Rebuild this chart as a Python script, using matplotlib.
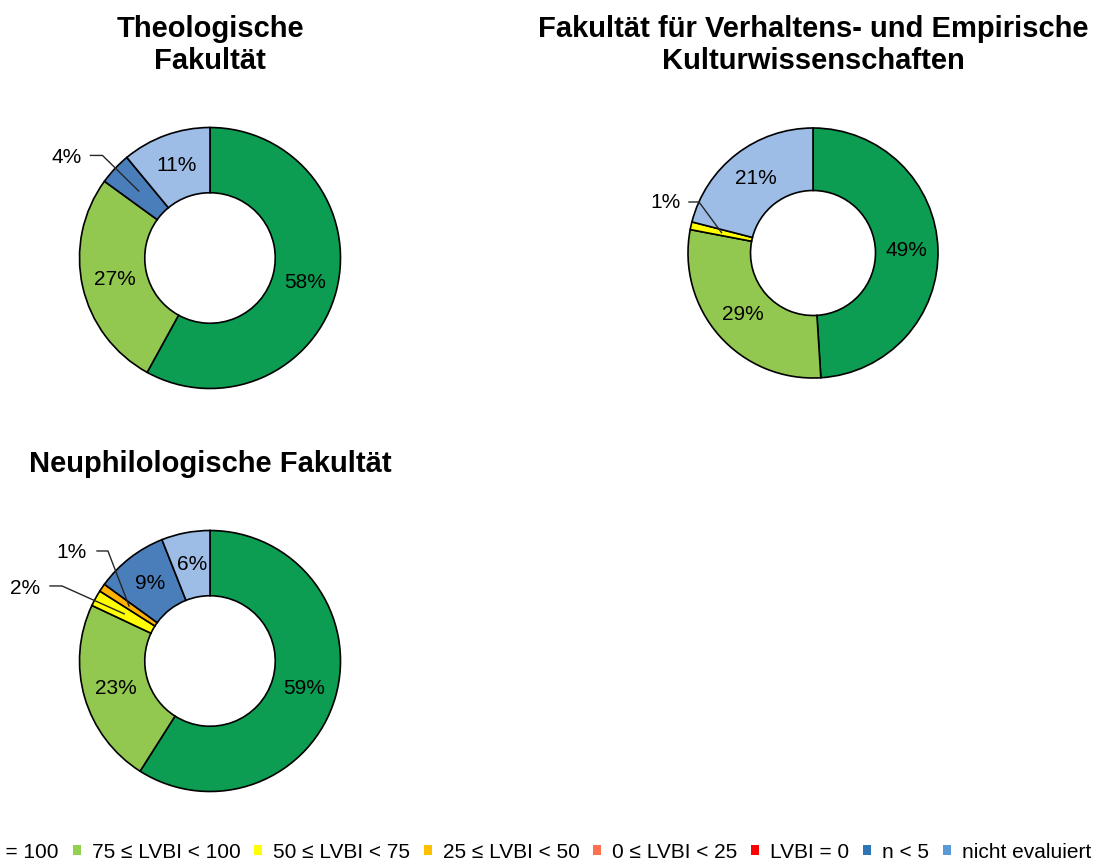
import matplotlib.pyplot as plt
import numpy as np
from matplotlib.patches import Patch

plt.rcParams['font.family'] = ['Liberation Sans', 'DejaVu Sans']

# categories and shares (percent) per faculty
categories = ['LVBI = 100', '75 ≤ LVBI < 100', '50 ≤ LVBI < 75', '25 ≤ LVBI < 50',
              '0 ≤ LVBI < 25', 'LVBI = 0', 'n < 5', 'nicht evaluiert']
theologie = [58, 27, 0, 0, 0, 0, 4, 11]
verhalten = [49, 29, 1, 0, 0, 0, 0, 21]
neuphilologie = [59, 23, 2, 1, 0, 0, 9, 6]

pie_colors = ['#0C9D52', '#92C850', '#FFFF00', '#FFB300', '#FF7050', '#FF0000', '#4A7EBB', '#9DBDE6']
legend_colors = ['#00A050', '#92D050', '#FFFF00', '#FFC000', '#FF7050', '#FF0000', '#2E75B6', '#5B9BD5']

W, H = 1094, 867
fig = plt.figure(figsize=(W / 100, H / 100), dpi=100)
fig.patch.set_facecolor('white')

PAD = 1.05


def donut(values, title, cx, cy, r, title_y, outside):
    ax = fig.add_axes([(cx - r * PAD) / W, (H - cy - r * PAD) / H, 2 * r * PAD / W, 2 * r * PAD / H])
    idx = [i for i, v in enumerate(values) if v > 0]
    wedges, _ = ax.pie([values[i] for i in idx], colors=[pie_colors[i] for i in idx],
                       startangle=90, counterclock=False, radius=1,
                       wedgeprops=dict(width=0.5, edgecolor='black', linewidth=1.2))
    ax.set_xlim(-PAD, PAD)
    ax.set_ylim(-PAD, PAD)
    ax.axis('off')
    for w, i in zip(wedges, idx):
        ang = np.deg2rad((w.theta1 + w.theta2) / 2)
        px, py = 0.75 * np.cos(ang), 0.75 * np.sin(ang)
        label = f'{values[i]}%'
        if i in outside:
            tx, ty, x0, x1, ly = outside[i]
            ax.plot([x0, x1, px], [ly, ly, py], color='#262626', lw=1, clip_on=False)
            ax.text(tx, ty, label, ha='center', va='center', fontsize=15)
        else:
            ax.text(px, py, label, ha='center', va='center', fontsize=15)
    fig.text(cx / W, 1 - title_y / H, title, ha='center', va='center',
             fontsize=21, fontweight='bold', linespacing=1.2)


donut(theologie, 'Theologische\nFakultät', 210, 258, 130.5, 45,
      {6: (-1.10, 0.77, -0.916, -0.824, 0.786)})
donut(verhalten, 'Fakultät für Verhaltens- und Empirische\nKulturwissenschaften', 813, 253, 125, 45,
      {2: (-1.18, 0.40, -0.992, -0.912, 0.408)})
donut(neuphilologie, 'Neuphilologische Fakultät', 210, 661, 130.5, 464,
      {2: (-1.42, 0.559, -1.226, -1.134, 0.575),
       3: (-1.06, 0.828, -0.866, -0.782, 0.843)})

# the legend is wider than the figure, as in the original its first entry runs off the left edge
handles = [Patch(facecolor=c, edgecolor='none', label=l) for c, l in zip(legend_colors, categories)]
fig.legend(handles=handles, loc='center right', bbox_to_anchor=(1.005, 0.0173), ncol=8,
           frameon=False, fontsize=15, handlelength=0.38, handleheight=0.38,
           handletextpad=0.53, columnspacing=0.66, borderaxespad=0)

fig.savefig('out.png', dpi=100)
